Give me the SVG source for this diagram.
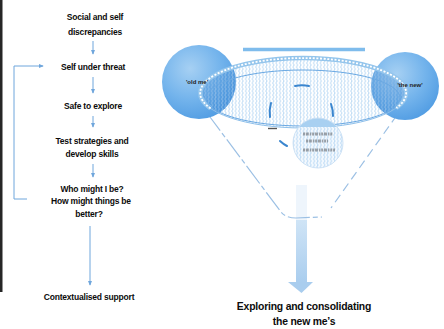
<svg xmlns="http://www.w3.org/2000/svg" width="444" height="329" viewBox="0 0 444 329">
  <defs>
    <style>
      .step { font-family: "Liberation Sans", Arial, sans-serif; font-weight: bold; font-size: 8.5px; fill: #0c0c0c; text-anchor: middle; letter-spacing: -0.2px; }
      .caption { font-family: "Liberation Sans", Arial, sans-serif; font-weight: bold; font-size: 10.4px; fill: #0c0c0c; text-anchor: middle; letter-spacing: -0.2px; }
      .selflabel { font-family: "Liberation Sans", Arial, sans-serif; font-weight: bold; font-size: 6px; fill: #222; text-anchor: middle; }
      .flow { stroke: #6fa6dc; stroke-width: 1; fill: none; }
      .funnel { stroke: #9cc0e4; stroke-width: 1.2; fill: none; }
      .cycle { stroke: #3b86cf; stroke-width: 2; fill: none; stroke-linecap: round; }
    </style>
    <marker id="tip" viewBox="0 0 6 6" refX="5" refY="3" markerWidth="5" markerHeight="5" orient="auto">
      <path d="M0 0.5 L6 3 L0 5.5 Z" fill="#6fa6dc"/>
    </marker>
    <pattern id="hatch" width="3.4" height="4" patternUnits="userSpaceOnUse">
      <path d="M1.2 0 Q2.2 1 1.2 2 Q0.2 3 1.2 4" stroke="#b3d5f3" stroke-width="0.9" fill="none"/>
    </pattern>
    <radialGradient id="sphere" cx="0.38" cy="0.32" r="0.75">
      <stop offset="0" stop-color="#a6d0f3"/>
      <stop offset="0.55" stop-color="#74b4ec"/>
      <stop offset="1" stop-color="#4f9be2"/>
    </radialGradient>
    <linearGradient id="shaft" x1="0" y1="0" x2="0" y2="1">
      <stop offset="0" stop-color="#cfe4f6"/>
      <stop offset="1" stop-color="#a9cdee"/>
    </linearGradient>
    <clipPath id="bowl">
      <ellipse cx="303" cy="93" rx="103" ry="35"/>
    </clipPath>
  </defs>

  <!-- dark left margin strip -->
  <rect x="0" y="0" width="2.5" height="292" fill="#262626"/>

  <!-- left-hand process column -->
  <g id="steps">
    <g id="step-discrepancies">
      <text class="step" x="95" y="20">Social and self</text>
      <text class="step" x="95" y="35">discrepancies</text>
    </g>
    <g id="step-threat"><text class="step" x="93" y="70">Self under threat</text></g>
    <g id="step-safe"><text class="step" x="93" y="109">Safe to explore</text></g>
    <g id="step-test">
      <text class="step" x="92" y="144">Test strategies and</text>
      <text class="step" x="92" y="157">develop skills</text>
    </g>
    <g id="step-who">
      <text class="step" x="92" y="192">Who might I be?</text>
      <text class="step" x="91" y="204">How might things be</text>
      <text class="step" x="89" y="217">better?</text>
    </g>
    <g id="step-support"><text class="step" x="89" y="300">Contextualised support</text></g>
  </g>

  <g id="connectors">
    <line class="flow" x1="93" y1="41" x2="93" y2="54" marker-end="url(#tip)"/>
    <line class="flow" x1="93" y1="77" x2="93" y2="93" marker-end="url(#tip)"/>
    <line class="flow" x1="93" y1="116" x2="93" y2="127" marker-end="url(#tip)"/>
    <line class="flow" x1="93" y1="164" x2="93" y2="177" marker-end="url(#tip)"/>
    <line class="flow" x1="90" y1="226" x2="90" y2="285" marker-end="url(#tip)"/>
    <polyline class="flow" points="27,199 14,199 14,66 43,66" marker-end="url(#tip)"/>
  </g>

  <!-- funnel of possible selves -->
  <g id="funnel">
    <!-- faint stem inside funnel -->
    <rect x="296" y="185" width="11" height="36" fill="#eef5fc"/>
    <path class="funnel" d="M207 113 L281 212 Q286 218 296 218 L322 217" stroke-dasharray="22 3 5 3"/>
    <path class="funnel" d="M397 115 L331 208" stroke-dasharray="9 5"/>
  </g>

  <g id="bar">
    <line x1="243" y1="49.5" x2="365" y2="49.5" stroke="#7fbcec" stroke-width="3.5"/>
  </g>

  <g id="old-me">
    <circle cx="199" cy="82" r="37" fill="url(#sphere)"/>
  </g>
  <g id="new-me">
    <circle cx="405" cy="86" r="34" fill="url(#sphere)"/>
  </g>

  <g id="bowl-area">
    <ellipse cx="303" cy="93" rx="103" ry="35" fill="url(#hatch)"/>
    <g clip-path="url(#bowl)">
      <circle cx="199" cy="82" r="37" fill="#2a78c8" fill-opacity="0.25"/>
      <circle cx="405" cy="86" r="34" fill="#2a78c8" fill-opacity="0.25"/>
    </g>
    <!-- rim -->
    <ellipse cx="303" cy="93" rx="103" ry="35" fill="none" stroke="#8fc0ea" stroke-width="1"/>
    <path d="M210.6 108.4 A103 35 0 1 1 396.3 108.0" fill="none" stroke="#94c5ec" stroke-width="4.5"/>
    <path d="M210.6 108.4 A103 35 0 1 1 396.3 108.0" fill="none" stroke="#ffffff" stroke-width="1.8" stroke-dasharray="2 1.6"/>
    <ellipse cx="303" cy="98" rx="97" ry="28" fill="none" stroke="#6aa8e2" stroke-width="1"/>
  </g>

  <g id="labels">
    <text class="selflabel" x="197" y="84">'old me'</text>
    <text class="selflabel" x="410" y="87">'the new'</text>
  </g>

  <!-- cycle of trying out selves -->
  <g id="cycle">
    <path class="cycle" d="M295 86 A32 32 0 0 1 309 86"/>
    <path class="cycle" d="M271 103 A32 32 0 0 0 270 117"/>
    <path class="cycle" d="M331 104 A32 32 0 0 1 333 116"/>
    <path class="cycle" d="M280 141 A32 32 0 0 0 287 146" stroke-width="1.6"/>
    <line x1="268" y1="128.5" x2="277" y2="128.5" stroke="#555" stroke-width="1.4"/>
  </g>

  <g id="ideal-self">
    <circle cx="318" cy="143" r="25" fill="#f4f9fe"/>
    <circle cx="318" cy="143" r="25" fill="url(#hatch)"/>
    <path d="M299 127 A25 25 0 0 1 337 127 Z" fill="#a8d0f1"/>
    <circle cx="318" cy="143" r="25" fill="none" stroke="#c4dcf2" stroke-width="0.8"/>
    <g stroke="#80858c" stroke-width="3" stroke-dasharray="2 0.8 3 1 1.5 0.8" opacity="0.75">
      <line x1="303" y1="134" x2="333" y2="134"/>
      <line x1="306" y1="141" x2="328" y2="141"/>
      <line x1="303" y1="150" x2="335" y2="150"/>
    </g>
  </g>

  <g id="outcome-arrow">
    <rect x="296" y="220" width="11" height="63" fill="url(#shaft)"/>
    <path d="M288 282 L313 282 L301.5 293 Z" fill="#a9cdee"/>
  </g>

  <g id="outcome">
    <text class="caption" x="304" y="310">Exploring and consolidating</text>
    <text class="caption" x="304" y="325">the new me’s</text>
  </g>
</svg>
